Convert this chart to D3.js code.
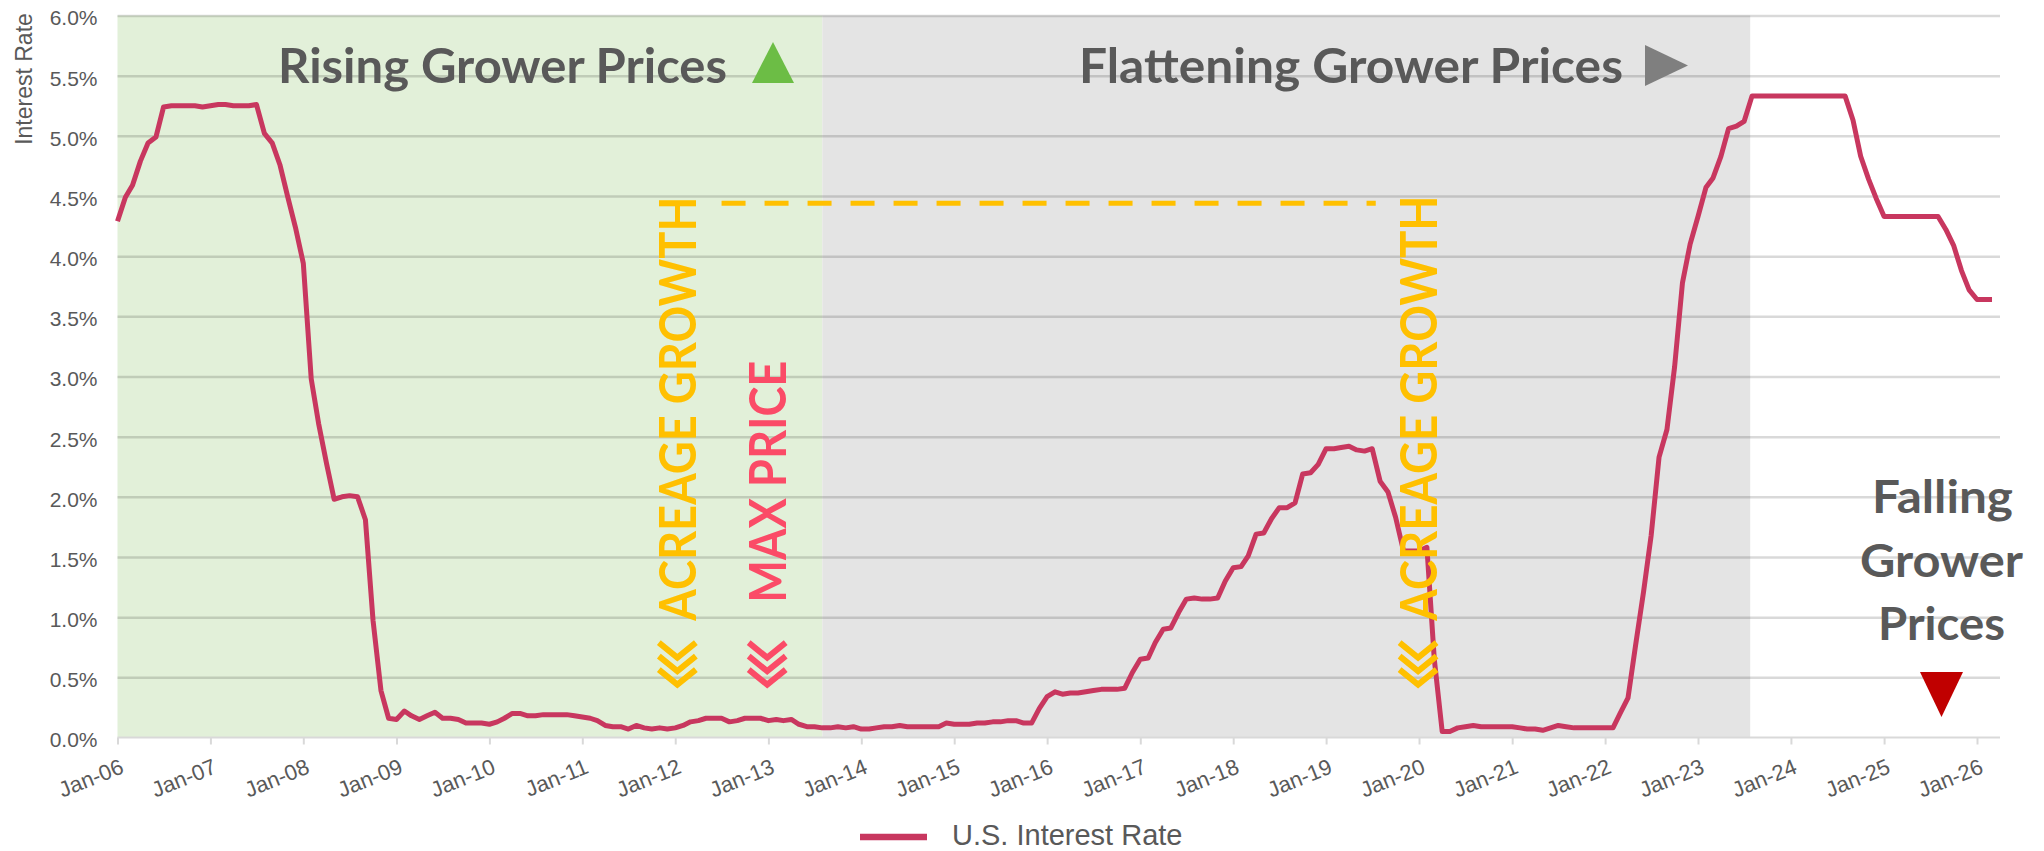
<!DOCTYPE html>
<html>
<head>
<meta charset="utf-8">
<script src="https://cdn.jsdelivr.net/npm/d3@7"></script>
<style>
  html, body { margin: 0; padding: 0; background: #fff; }
  svg { display: block; }
  .axis text { font-family: "Liberation Sans", Arial, sans-serif; fill: #595959; }
  .note { font-family: Lato, "Open Sans", sans-serif; font-weight: 700; }
</style>
</head>
<body>
<svg id="chart" width="2044" height="851"></svg>
<script>
/* global d3 */

// monthly U.S. (effective) interest rate in %, starting Jan-06
var firstMonth = new Date(2006, 0, 1);
var rates = [
  4.29, 4.49, 4.59, 4.79, 4.94, 4.99, 5.24, 5.25, 5.25, 5.25, 5.25, 5.24, // 2006
  5.25, 5.26, 5.26, 5.25, 5.25, 5.25, 5.26, 5.02, 4.94, 4.76, 4.49, 4.24, // 2007
  3.94, 2.98, 2.61, 2.28, 1.98, 2.00, 2.01, 2.00, 1.81, 0.97, 0.39, 0.16, // 2008
  0.15, 0.22, 0.18, 0.15, 0.18, 0.21, 0.16, 0.16, 0.15, 0.12, 0.12, 0.12, // 2009
  0.11, 0.13, 0.16, 0.20, 0.20, 0.18, 0.18, 0.19, 0.19, 0.19, 0.19, 0.18, // 2010
  0.17, 0.16, 0.14, 0.10, 0.09, 0.09, 0.07, 0.10, 0.08, 0.07, 0.08, 0.07, // 2011
  0.08, 0.10, 0.13, 0.14, 0.16, 0.16, 0.16, 0.13, 0.14, 0.16, 0.16, 0.16, // 2012
  0.14, 0.15, 0.14, 0.15, 0.11, 0.09, 0.09, 0.08, 0.08, 0.09, 0.08, 0.09, // 2013
  0.07, 0.07, 0.08, 0.09, 0.09, 0.10, 0.09, 0.09, 0.09, 0.09, 0.09, 0.12, // 2014
  0.11, 0.11, 0.11, 0.12, 0.12, 0.13, 0.13, 0.14, 0.14, 0.12, 0.12, 0.24, // 2015
  0.34, 0.38, 0.36, 0.37, 0.37, 0.38, 0.39, 0.40, 0.40, 0.40, 0.41, 0.54, // 2016
  0.65, 0.66, 0.79, 0.90, 0.91, 1.04, 1.15, 1.16, 1.15, 1.15, 1.16, 1.30, // 2017
  1.41, 1.42, 1.51, 1.69, 1.70, 1.82, 1.91, 1.91, 1.95, 2.19, 2.20, 2.27, // 2018
  2.40, 2.40, 2.41, 2.42, 2.39, 2.38, 2.40, 2.13, 2.04, 1.83, 1.55, 1.55, // 2019
  1.55, 1.58, 0.65, 0.05, 0.05, 0.08, 0.09, 0.10, 0.09, 0.09, 0.09, 0.09, // 2020
  0.09, 0.08, 0.07, 0.07, 0.06, 0.08, 0.10, 0.09, 0.08, 0.08, 0.08, 0.08, // 2021
  0.08, 0.08, 0.20, 0.33, 0.77, 1.21, 1.68, 2.33, 2.56, 3.08, 3.78, 4.10, // 2022
  4.33, 4.57, 4.65, 4.83, 5.06, 5.08, 5.12, 5.33, 5.33, 5.33, 5.33, 5.33, // 2023
  5.33, 5.33, 5.33, 5.33, 5.33, 5.33, 5.33, 5.33, 5.13, 4.83, 4.64, 4.48, // 2024
  4.33, 4.33, 4.33, 4.33, 4.33, 4.33, 4.33, 4.33, 4.22, 4.09, 3.88, 3.72, // 2025
  3.64, 3.64, 3.64                                                        // 2026
];

var yTicks = [0, 0.5, 1, 1.5, 2, 2.5, 3, 3.5, 4, 4.5, 5, 5.5, 6];
var tickYears = d3.range(2006, 2027);

var phases = [
  { start: new Date(2006, 0, 1), end: new Date(2013, 7, 1), fill: "#e2f0d9" },
  { start: new Date(2013, 7, 1), end: new Date(2023, 6, 25), fill: "#e4e4e4" }
];

// vertical call-outs: date of their baseline, length of the words
var callouts = [
  { label: "ACREAGE GROWTH", date: new Date(2012, 2, 22), color: "#ffc000", length: 424, gap: 68 },
  { label: "MAX PRICE", date: new Date(2013, 2, 10), color: "#fb4b67", length: 242, gap: 86 },
  { label: "ACREAGE GROWTH", date: new Date(2020, 2, 10), color: "#ffc000", length: 425, gap: 68 }
];
var plateauLine = { from: new Date(2012, 6, 1), to: new Date(2019, 6, 15), value: 4.44 };

var svg = d3.select("#chart");
var plotLeft = 117.5, plotRight = 2000, plotTop = 15.5, plotBottom = 737.5;

var x = d3.scaleTime()
  .domain([new Date(2006, 0, 1), new Date(2026, 0, 1)])
  .range([plotLeft, 1977]);
var y = d3.scaleLinear().domain([0, 6]).range([plotBottom, plotTop]);

// background phases
svg.append("g")
  .selectAll("rect")
  .data(phases)
  .enter()
  .append("rect")
  .attr("x", function(d) { return x(d.start); })
  .attr("width", function(d) { return x(d.end) - x(d.start); })
  .attr("y", y(6))
  .attr("height", y(0) - y(6))
  .style("fill", function(d) { return d.fill; });

// gridlines
var grid = svg.append("g")
  .attr("transform", "translate(" + plotLeft + ",0)")
  .call(d3.axisLeft(y).tickValues(yTicks.slice(1)).tickSize(-(plotRight - plotLeft)).tickFormat(""));
grid.select(".domain").remove();
grid.selectAll("line")
  .style("stroke", "#000")
  .style("stroke-opacity", 0.15)
  .style("stroke-width", 2.5);

// y labels
var yAxis = svg.append("g")
  .attr("class", "axis")
  .attr("transform", "translate(" + plotLeft + ",0)")
  .call(d3.axisLeft(y).tickValues(yTicks).tickSize(0).tickPadding(20)
    .tickFormat(function(d) { return d.toFixed(1) + "%"; }));
yAxis.select(".domain").remove();
yAxis.selectAll("text")
  .style("font-size", "21px")
  .attr("dy", "0.45em");

svg.append("text")
  .attr("transform", "translate(32,79) rotate(-90)")
  .attr("text-anchor", "middle")
  .style("font-family", "'Liberation Sans', Arial, sans-serif")
  .style("font-size", "23px")
  .style("fill", "#595959")
  .text("Interest Rate");

// x axis
var xAxis = svg.append("g")
  .attr("class", "axis")
  .attr("transform", "translate(0," + plotBottom + ")")
  .call(d3.axisBottom(x)
    .tickValues(tickYears.map(function(yr) { return new Date(yr, 0, 1); }))
    .tickSize(7)
    .tickFormat(d3.timeFormat("Jan-%y")));
xAxis.select(".domain").remove();
xAxis.selectAll("line").style("stroke", "#d9d9d9").style("stroke-width", 2);
xAxis.selectAll("text")
  .style("font-size", "22px")
  .attr("x", 0)
  .attr("y", 0)
  .attr("dy", 0)
  .attr("text-anchor", "end")
  .attr("transform", "translate(7,35) rotate(-22)");
xAxis.append("line")
  .attr("x1", plotLeft)
  .attr("x2", plotRight)
  .style("stroke", "#d9d9d9")
  .style("stroke-width", 2);

// dashed plateau guide
svg.append("line")
  .attr("x1", x(plateauLine.from))
  .attr("x2", x(plateauLine.to))
  .attr("y1", y(plateauLine.value))
  .attr("y2", y(plateauLine.value))
  .style("stroke", "#ffc000")
  .style("stroke-width", 5)
  .style("stroke-dasharray", "24,19");

// the series
var line = d3.line()
  .x(function(d, i) { return x(d3.timeMonth.offset(firstMonth, i)); })
  .y(function(d) { return y(d); });

svg.append("path")
  .datum(rates)
  .attr("d", line)
  .style("fill", "none")
  .style("stroke", "#c8375f")
  .style("stroke-width", 5)
  .style("stroke-linejoin", "round");

// vertical call-outs with chevrons
var chevronBottom = y(0.406);
callouts.forEach(function(c) {
  var g = svg.append("g")
    .attr("transform", "translate(" + x(c.date) + "," + chevronBottom + ") rotate(-90)");
  [0, 13.5, 27].forEach(function(off) {
    g.append("path")
      .attr("d", "M" + (off + 19) + ",-37 L" + (off + 4) + ",-18.5 L" + (off + 19) + ",0")
      .style("fill", "none")
      .style("stroke", c.color)
      .style("stroke-width", 6);
  });
  g.append("text")
    .attr("class", "note")
    .attr("x", c.gap)
    .attr("y", 0)
    .attr("textLength", c.length)
    .attr("lengthAdjust", "spacingAndGlyphs")
    .style("font-size", "52px")
    .style("fill", c.color)
    .text(c.label);
});

// phase headings
var headings = [
  { text: "Rising Grower Prices", x: 278, y: 83, size: 48, width: 449 },
  { text: "Flattening Grower Prices", x: 1079, y: 83, size: 48, width: 544 },
  { text: "Falling", x: 1872, y: 513, size: 46, width: 141 },
  { text: "Grower", x: 1860, y: 577, size: 46, width: 163 },
  { text: "Prices", x: 1878, y: 640, size: 46, width: 127 }
];
svg.selectAll("text.heading")
  .data(headings)
  .enter()
  .append("text")
  .attr("class", "note heading")
  .attr("x", function(d) { return d.x; })
  .attr("y", function(d) { return d.y; })
  .attr("textLength", function(d) { return d.width; })
  .attr("lengthAdjust", "spacingAndGlyphs")
  .style("font-size", function(d) { return d.size + "px"; })
  .style("fill", "#595959")
  .text(function(d) { return d.text; });

// direction markers
svg.append("polygon").attr("points", "773,42 794,83 752,83").style("fill", "#6cbd45");
svg.append("polygon").attr("points", "1645,45 1688,65.5 1645,86").style("fill", "#7f7f7f");
svg.append("polygon").attr("points", "1920,672 1963,672 1941.5,717").style("fill", "#c00000");

// legend
svg.append("line")
  .attr("x1", 860)
  .attr("x2", 927)
  .attr("y1", 837)
  .attr("y2", 837)
  .style("stroke", "#c8375f")
  .style("stroke-width", 6.5);
svg.append("text")
  .attr("x", 952)
  .attr("y", 845)
  .style("font-family", "'Liberation Sans', Arial, sans-serif")
  .style("font-size", "29px")
  .style("fill", "#595959")
  .text("U.S. Interest Rate");
</script>
</body>
</html>
